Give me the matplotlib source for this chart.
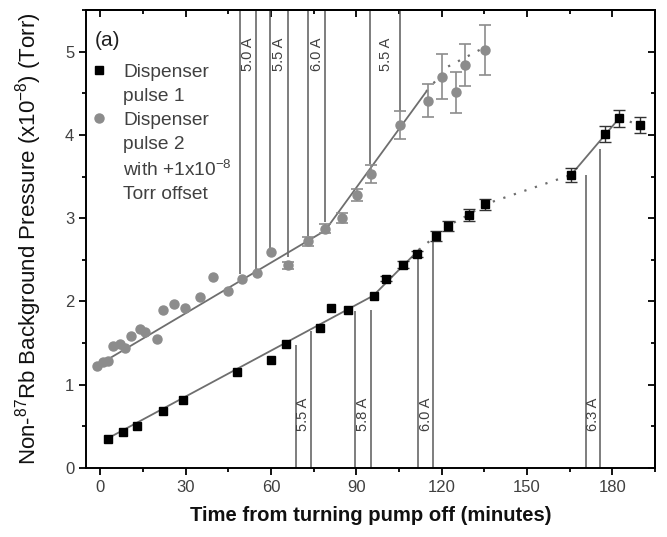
import matplotlib
matplotlib.use('Agg')
import matplotlib.pyplot as plt
import numpy as np
from matplotlib.lines import Line2D
from matplotlib.ticker import MultipleLocator

plt.rcParams['font.family'] = ['Liberation Sans', 'DejaVu Sans']
plt.rcParams['mathtext.fontset'] = 'custom'
plt.rcParams['mathtext.rm'] = 'Liberation Sans'
plt.rcParams['mathtext.it'] = 'Liberation Sans:italic'
plt.rcParams['mathtext.bf'] = 'Liberation Sans:bold'

# ---------------- data ----------------
# Dispenser pulse 1 (black squares)
p1_t = [2.9, 8.0, 13.0, 22.0, 29.2, 48.2, 60.0, 65.3, 77.1, 81.1, 87.2, 96.1,
        100.4, 106.3, 111.2, 118.1, 122.2, 129.5, 135.1, 165.5, 177.4, 182.4, 189.7]
p1_p = [0.35, 0.43, 0.50, 0.69, 0.82, 1.155, 1.30, 1.495, 1.68, 1.925, 1.90, 2.06,
        2.27, 2.44, 2.57, 2.79, 2.91, 3.04, 3.165, 3.52, 4.01, 4.20, 4.12]
p1_err = [0, 0, 0, 0, 0, 0, 0, 0, 0, 0, 0, 0,
          0.03, 0.04, 0.04, 0.06, 0.06, 0.07, 0.07, 0.08, 0.10, 0.10, 0.10]

# Dispenser pulse 2 (grey circles, +1e-8 Torr offset)
p2_t = [-1.3, 1.0, 2.8, 4.6, 6.9, 8.7, 10.8, 13.9, 15.9, 19.8, 21.9, 26.0, 29.9,
        35.2, 39.8, 44.9, 49.9, 55.1, 59.9, 66.0, 72.9, 79.0, 84.9, 90.2, 95.1,
        105.2, 115.3, 120.1, 125.2, 128.3, 135.4]
p2_p = [1.23, 1.27, 1.29, 1.47, 1.49, 1.445, 1.59, 1.665, 1.63, 1.55, 1.90, 1.97,
        1.925, 2.05, 2.29, 2.13, 2.27, 2.34, 2.59, 2.435, 2.72, 2.875, 3.005, 3.28,
        3.53, 4.12, 4.41, 4.70, 4.51, 4.84, 5.02]
p2_err = [0] * 19 + [0.04, 0.05, 0.05, 0.06, 0.07, 0.11, 0.17, 0.20, 0.27,
                     0.245, 0.257, 0.30]

# piecewise linear fits (solid) and guides (dotted)
fit1_t = [1.8, 96.0, 112.0]
fit1_p = [0.34, 2.07, 2.62]
fit1b_t = [165.5, 182.4]
fit1b_p = [3.52, 4.20]
fit2_t = [-1.5, 79.0, 114.6]
fit2_p = [1.22, 2.85, 4.52]
guide2_t = [114.6, 122.2, 135.0]
guide2_p = [4.52, 4.82, 5.05]

# dispenser current switching times
cur_up_t = [49.3, 54.7, 59.8, 66.0, 73.2, 78.9, 94.9, 105.2]
cur_up_end = [2.33, 2.38, 2.64, 2.53, 2.79, 2.95, 3.65, 4.29]
cur_up_lbl = ['5.0 A', '5.5 A', '6.0 A', '5.5 A']
cur_up_lbl_t = [52.0, 62.9, 76.05, 100.3]

cur_lo_t = [68.9, 74.1, 89.7, 95.3, 111.8, 117.1, 170.7, 175.5]
cur_lo_end = [1.48, 1.64, 1.88, 1.90, 2.57, 2.79, 3.52, 3.83]
cur_lo_lbl = ['5.5 A', '5.8 A', '6.0 A', '6.3 A']
cur_lo_lbl_t = [71.4, 92.5, 114.45, 173.1]

x_ticks = [0, 30, 60, 90, 120, 150, 180]
y_ticks = [0, 1, 2, 3, 4, 5]

# ---------------- figure ----------------
fig = plt.figure(figsize=(6.67, 5.37), dpi=100)
ax = fig.add_axes([86 / 667, 69 / 537, (655 - 86) / 667, (468 - 10) / 537])
ax.set_xlim(-5, 195)
ax.set_ylim(0, 5.5)

grey = '#8c8c8c'
linec = '#5a5a5a'
fitc = '#6e6e6e'

# vertical current lines
ymax = ax.get_ylim()[1]
ax.vlines(cur_up_t, cur_up_end, ymax, color=linec, lw=1.1, zorder=1)
ax.vlines(cur_lo_t, 0, cur_lo_end, color=linec, lw=1.1, zorder=1)
for t, s in zip(cur_up_lbl_t, cur_up_lbl):
    ax.text(t, 4.97, s, rotation=90, ha='center', va='center', fontsize=10.5,
            color='#404040')
for t, s in zip(cur_lo_lbl_t, cur_lo_lbl):
    ax.text(t, 0.64, s, rotation=90, ha='center', va='center', fontsize=10.5,
            color='#404040')

# fit lines
ax.plot(fit1_t, fit1_p, color=fitc, lw=1.3, zorder=2)
ax.plot(fit1b_t, fit1b_p, color=fitc, lw=1.3, zorder=2)
ax.plot([fit1_t[-1]] + p1_t[15:20], [fit1_p[-1]] + p1_p[15:20], color=fitc,
        lw=1.6, ls=(0, (1, 4)), zorder=2)
ax.plot(p1_t[21:], p1_p[21:], color=fitc, lw=1.6, ls=(0, (1, 4)), zorder=2)
ax.plot(fit2_t, fit2_p, color=fitc, lw=1.3, zorder=2)
ax.plot(guide2_t, guide2_p, color=fitc, lw=1.6, ls=(0, (1, 4)), zorder=2)

# error bars
p1_t_a, p1_p_a, p1_e_a = map(np.array, (p1_t, p1_p, p1_err))
m1 = p1_e_a > 0
ax.errorbar(p1_t_a[m1], p1_p_a[m1], yerr=p1_e_a[m1], fmt='none', ecolor='#333333',
            elinewidth=1.0, capsize=4, capthick=1.0, zorder=3)
p2_t_a, p2_p_a, p2_e_a = map(np.array, (p2_t, p2_p, p2_err))
m2 = p2_e_a > 0
ax.errorbar(p2_t_a[m2], p2_p_a[m2], yerr=p2_e_a[m2], fmt='none', ecolor=grey,
            elinewidth=1.2, capsize=4.5, capthick=1.2, zorder=3)

# markers
ax.plot(p1_t, p1_p, ls='none', marker='s', ms=6.2, color='black', zorder=4)
ax.plot(p2_t, p2_p, ls='none', marker='o', ms=6.5, color=grey, zorder=4)

# axes styling
ax.set_xticks(x_ticks)
ax.set_yticks(y_ticks)
ax.xaxis.set_minor_locator(MultipleLocator(15))
ax.yaxis.set_minor_locator(MultipleLocator(0.5))
ax.tick_params(axis='both', which='major', direction='out', length=5, width=1.3,
               labelsize=12, labelcolor='#404040', top=False, right=False)
ax.tick_params(axis='both', which='minor', direction='out', length=3, width=1.3,
               top=False, right=False)
for sp in ax.spines.values():
    sp.set_linewidth(1.4)

secx = ax.secondary_xaxis('top')
secx.set_xticks(x_ticks, labels=[''] * len(x_ticks))
secx.xaxis.set_minor_locator(MultipleLocator(15))
secx.tick_params(which='major', direction='in', length=5, width=1.3)
secx.tick_params(which='minor', direction='in', length=3, width=1.3)
secx.spines['top'].set_linewidth(1.4)
secy = ax.secondary_yaxis('right')
secy.set_yticks(y_ticks, labels=[''] * len(y_ticks))
secy.yaxis.set_minor_locator(MultipleLocator(0.5))
secy.tick_params(which='major', direction='in', length=5, width=1.3)
secy.tick_params(which='minor', direction='in', length=3, width=1.3)
secy.spines['right'].set_linewidth(1.4)

ax.set_xlabel('Time from turning pump off (minutes)', fontsize=14.6,
              fontweight='bold', color='#111111', labelpad=8)
ax.set_ylabel(r'Non-$^{87}$Rb Background Pressure (x10$^{-8}$) (Torr)',
              fontsize=16, color='#111111', labelpad=15)

# legend
blank = Line2D([], [], ls='none', marker='none')
handles = [Line2D([], [], ls='none', marker='s', ms=6, color='black'), blank,
           Line2D([], [], ls='none', marker='o', ms=6.5, color=grey), blank, blank, blank]
labels = ['Dispenser', 'pulse 1', 'Dispenser', 'pulse 2',
          r'with +1x10$^{-8}$', 'Torr offset']
leg = ax.legend(handles, labels, loc='upper left', bbox_to_anchor=(-0.014, 0.912),
                frameon=False, fontsize=13.8, handlelength=0.8, handletextpad=0.85,
                labelspacing=0.34, borderaxespad=0.3)
for t in leg.get_texts():
    t.set_color('#404040')
ax.text(0.015, 0.934, '(a)', transform=ax.transAxes, fontsize=15,
        ha='left', va='center', color='#202020')

fig.savefig('out.png', dpi=100)
